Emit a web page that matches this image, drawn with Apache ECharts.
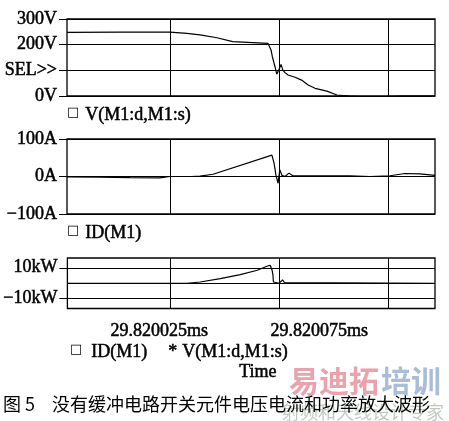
<!DOCTYPE html>
<html>
<head>
<meta charset="utf-8">
<script src="https://cdn.jsdelivr.net/npm/echarts@6/dist/echarts.min.js"></script>
<style>
html,body{margin:0;padding:0;background:#fff;}
#c{width:449px;height:421px;}
</style>
</head>
<body>
<div id="c"></div>
<script>
// ---- data (time in ns relative offset) ----
const vTime   = [1.4, 13.5, 25, 28.9, 31.9, 35.8, 39.4, 44.0, 47.5, 48.2, 48.5, 48.9, 49.2, 49.5, 49.8, 50.5, 50.9, 51.4, 52.1, 53.7, 55.2, 56.7, 58.3, 61.0, 63.3, 66.3, 68.6, 74.8, 78, 85.8];
const vValues = [248, 249, 249, 244, 238, 227, 212, 208, 205, 179, 153, 127, 108, 85, 95, 123, 101, 91, 82, 73, 62, 43, 30, 19, 4, 0, -2, -2, 0, 0];

const idTime   = [1.4, 8.9, 15.8, 22.7, 25, 30, 31.9, 34.9, 48.4, 48.9, 49.3, 49.8, 50.2, 50.7, 51.4, 52.3, 53.2, 54.8, 66.3, 70.9, 75.5, 78.9, 82.3, 85.8];
const idValues = [-1, -2, -3, -3.5, 0, 0, 1, 6, 57, 35, 5, -18, 18, 3, 0, 9, 2, 2, 2, 0, 2, 8, 7, 3];

const pTime   = [1.4, 28.9, 31.9, 36.5, 41.1, 45.0, 47.5, 48.0, 48.4, 48.6, 48.7, 50.0, 50.4, 50.8, 51.2, 51.6, 85.8];
const pValues = [0, 0, 0.8, 3.0, 5.6, 8.4, 11.3, 11.5, 8.4, 5.2, 0.8, 0, 0, 2.2, 0.5, 0, 0];

const vTickLabels  = ['0V', 'SEL>>', '200V', '300V'];
const idTickLabels = ['\u2212100A', '0A', '100A'];
const pTickValues  = [-10, 10];
const pTickLabels  = ['\u221210kW', '10kW'];
const pGridValues  = [-10, 0, 10];
const xGridValues  = [25, 50, 75];
const xTickValues  = [22.5, 59.2];
const xTickLabels  = ['29.820025ms', '29.820075ms'];

// ---- chart ----
const SERIF = '"Liberation Serif", "Times New Roman", serif';
const CJK = '"Noto Sans CJK SC", sans-serif';
const chart = echarts.init(document.getElementById('c'), null, {renderer: 'canvas'});

const zip = (a, b) => a.map((t, i) => [t, b[i]]);
const gridCommon = {left: 67, right: 14, show: true, borderColor: '#000', borderWidth: 1.3, backgroundColor: '#fff'};
const xBase = {type: 'value', min: 1.4, max: 85.8, axisLine: {show: false}, splitLine: {show: false}, axisLabel: {show: false}, axisTick: {show: false}};
const yLabel = {fontFamily: SERIF, fontSize: 18, color: '#000', margin: 10, textBorderColor: '#000', textBorderWidth: 0.5};
const yTick = {show: true, length: 8, lineStyle: {color: '#000', width: 1}};
const vGridMark = {
  silent: true, symbol: 'none', animation: false, label: {show: false},
  lineStyle: {color: '#000', width: 1, type: 'solid'},
  data: xGridValues.map(v => ({xAxis: v}))
};
const lineStyle = {color: '#000', width: 1.2};
const TXT = '18px ' + SERIF;
const txt = (left, top, text) => ({type: 'text', left: left, top: top,
  style: {text: text, font: TXT, fill: '#000', stroke: '#000', lineWidth: 0.5}});

chart.setOption({
  animation: false,
  backgroundColor: '#fff',
  grid: [
    Object.assign({top: 19, height: 77}, gridCommon),
    Object.assign({top: 139, height: 75}, gridCommon),
    Object.assign({top: 258, height: 50.5}, gridCommon)
  ],
  xAxis: [
    Object.assign({gridIndex: 0}, xBase),
    Object.assign({gridIndex: 1}, xBase),
    Object.assign({}, xBase, {
      gridIndex: 2,
      axisTick: {show: true, customValues: xGridValues, length: 9, lineStyle: {color: '#000', width: 1}},
      axisLabel: Object.assign({}, yLabel, {show: true, customValues: xTickValues, margin: 14,
        formatter: v => { const i = xTickValues.findIndex(x => Math.abs(x - v) < 1e-6); return i >= 0 ? xTickLabels[i] : ''; }})
    })
  ],
  yAxis: [
    {gridIndex: 0, type: 'value', min: 0, max: 300, interval: 100, axisLine: {show: false}, axisTick: yTick,
     axisLabel: Object.assign({formatter: v => vTickLabels[Math.round(v / 100)]}, yLabel),
     splitLine: {show: true, lineStyle: {color: '#000', width: 1}}},
    {gridIndex: 1, type: 'value', min: -100, max: 100, interval: 100, axisLine: {show: false}, axisTick: yTick,
     axisLabel: Object.assign({formatter: v => idTickLabels[Math.round(v / 100) + 1]}, yLabel),
     splitLine: {show: true, lineStyle: {color: '#000', width: 1}}},
    {gridIndex: 2, type: 'value', min: -16.3, max: 16.3, axisLine: {show: false},
     axisTick: Object.assign({customValues: pTickValues}, yTick),
     axisLabel: Object.assign({customValues: pTickValues, formatter: v => { const i = pTickValues.indexOf(Math.round(v)); return i >= 0 ? pTickLabels[i] : ''; }}, yLabel),
     splitLine: {show: false}}
  ],
  series: [
    {name: 'V(M1:d,M1:s)', type: 'line', xAxisIndex: 0, yAxisIndex: 0, data: zip(vTime, vValues),
     showSymbol: false, lineStyle: lineStyle, markLine: vGridMark},
    {name: 'ID(M1)', type: 'line', xAxisIndex: 1, yAxisIndex: 1, data: zip(idTime, idValues),
     showSymbol: false, lineStyle: lineStyle, markLine: vGridMark},
    {name: 'ID(M1)*V(M1:d,M1:s)', type: 'line', xAxisIndex: 2, yAxisIndex: 2, data: zip(pTime, pValues),
     showSymbol: false, lineStyle: lineStyle,
     markLine: Object.assign({}, vGridMark, {data: xGridValues.map(v => ({xAxis: v})).concat(pGridValues.map(v => ({yAxis: v})))})}
  ],
  graphic: [
    {type: 'text', left: 67, top: 106, style: {text: '\u25A1', font: '13px "DejaVu Sans"', fill: '#000'}},
    txt(85, 106, 'V(M1:d,M1:s)'),
    {type: 'text', left: 67, top: 224, style: {text: '\u25A1', font: '13px "DejaVu Sans"', fill: '#000'}},
    txt(85, 224, 'ID(M1)'),
    {type: 'text', left: 70, top: 343, style: {text: '\u25A1', font: '13px "DejaVu Sans"', fill: '#000'}},
    txt(91, 343, 'ID(M1)'),
    txt(168, 343, '*'),
    txt(182, 343, 'V(M1:d,M1:s)'),
    txt(239, 363, 'Time'),
    // watermark
    {type: 'text', left: 289, top: 366, style: {text: '易迪拓', font: 'bold 30px ' + CJK, fill: '#eaa3ad'}},
    {type: 'text', left: 381, top: 366, style: {text: '培训', font: 'bold 30px ' + CJK, fill: '#a9bcd8'}},
    {type: 'text', left: 282, top: 403, style: {text: '射频和天线设计专家', font: '18px ' + CJK, fill: 'rgba(140,160,140,0.55)'}},
    // caption
    {type: 'text', left: 3, top: 395, style: {text: '图 5', font: '18px ' + CJK, fill: '#000'}},
    {type: 'text', left: 52, top: 395, style: {text: '没有缓冲电路开关元件电压电流和功率放大波形', font: '18px ' + CJK, fill: '#000'}}
  ]
});
</script>
</body>
</html>
